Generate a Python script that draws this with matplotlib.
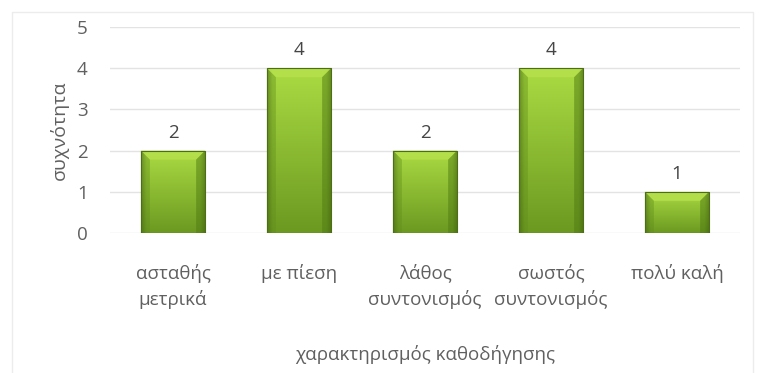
import numpy as np
import matplotlib
matplotlib.use("Agg")
import matplotlib.pyplot as plt
from matplotlib.patches import Rectangle, Polygon

plt.rcParams['font.family'] = ['Open Sans', 'Noto Sans', 'DejaVu Sans']

categories = ["ασταθής\nμετρικά", "με πίεση", "λάθος\nσυντονισμός",
              "σωστός\nσυντονισμός", "πολύ καλή"]
values = [2, 4, 2, 4, 1]
y_ticks = [0, 1, 2, 3, 4, 5]
x_title = "χαρακτηρισμός καθοδήγησης"
y_title = "συχνότητα"

W, H = 765, 373
fig = plt.figure(figsize=(W / 100, H / 100), dpi=100)
ax = fig.add_axes([110 / W, 1 - 233 / H, 630 / W, 206 / H])

n = len(categories)
ax.set_xlim(-0.5, n - 0.5)
ax.set_ylim(0, 5)

# light horizontal grid
for t in y_ticks:
    ax.axhline(t, color="#e3e3e3", lw=1.0, zorder=0)
for s in ax.spines.values():
    s.set_visible(False)

ax.set_yticks(y_ticks)
ax.set_xticks(range(n))
ax.set_xticklabels(categories, fontsize=13.5, color="#606060", linespacing=1.5)
ax.set_yticklabels([str(t) for t in y_ticks], fontsize=13.5, color="#606060")
ax.tick_params(length=0)
ax.tick_params(axis="y", pad=16)
ax.tick_params(axis="x", pad=22)

# bar shading texture: vertical light->dark green, darker near the side edges
ny, nx = 100, 60
fy = np.linspace(0, 1, ny)[:, None]          # 0 = top, 1 = bottom
fx = np.linspace(0, 1, nx)[None, :]
top = np.array([0.67, 0.86, 0.26])
bot = np.array([0.42, 0.60, 0.13])
base = top[None, None, :] * (1 - fy[..., None]) + bot[None, None, :] * fy[..., None]
edge = 1 - 0.28 * np.clip(1 - np.minimum(fx, 1 - fx) / 0.08, 0, 1)
tex = np.clip(base * edge[..., None], 0, 1)

bw = 0.51
px_x = 126.0          # pixels per category unit
px_y = 41.2           # pixels per value unit
bev = 9.0             # bevel size in pixels
for i, v in enumerate(values):
    x0, x1 = i - bw / 2, i + bw / 2
    rect = Rectangle((x0, 0), bw, v, facecolor="none", edgecolor="none")
    ax.add_patch(rect)
    im = ax.imshow(tex, extent=(x0, x1, 0, v), aspect="auto", zorder=2,
                   interpolation="bilinear")
    im.set_clip_path(rect)
    bx, by = bev / px_x, bev / px_y
    # top bevel facet
    ax.add_patch(Polygon([(x0, v), (x1, v), (x1 - bx, v - by), (x0 + bx, v - by)],
                         closed=True, facecolor="#b5e04c", edgecolor="none",
                         alpha=0.9, zorder=3))
    # side bevel facets
    ax.add_patch(Polygon([(x0, v), (x0 + bx, v - by), (x0 + bx, 0), (x0, 0)],
                         closed=True, facecolor="#5f8c1a", edgecolor="none",
                         alpha=0.4, zorder=3))
    ax.add_patch(Polygon([(x1, v), (x1 - bx, v - by), (x1 - bx, 0), (x1, 0)],
                         closed=True, facecolor="#4f7a12", edgecolor="none",
                         alpha=0.5, zorder=3))
    ax.add_patch(Rectangle((x0, 0), bw, v, facecolor="none",
                           edgecolor="#4d6e14", lw=0.8, zorder=4))
    ax.text(i, v + 0.22, str(v), ha="center", va="bottom", fontsize=13.5,
            color="#454545", zorder=5)

ax.yaxis.set_label_coords(-0.066, 0.5)
ax.set_ylabel(y_title, fontsize=14, color="#606060")
fig.text(425 / W, 1 - 355 / H, x_title, ha="center", va="center",
         fontsize=13.5, color="#606060")

# faint chart-area border
fig.add_artist(Rectangle((12 / W, -0.1), (753 - 12) / W, 1 - 12 / H + 0.1,
                         transform=fig.transFigure, facecolor="none",
                         edgecolor="#ececec", lw=1.0))

fig.savefig("out.png", dpi=100)
